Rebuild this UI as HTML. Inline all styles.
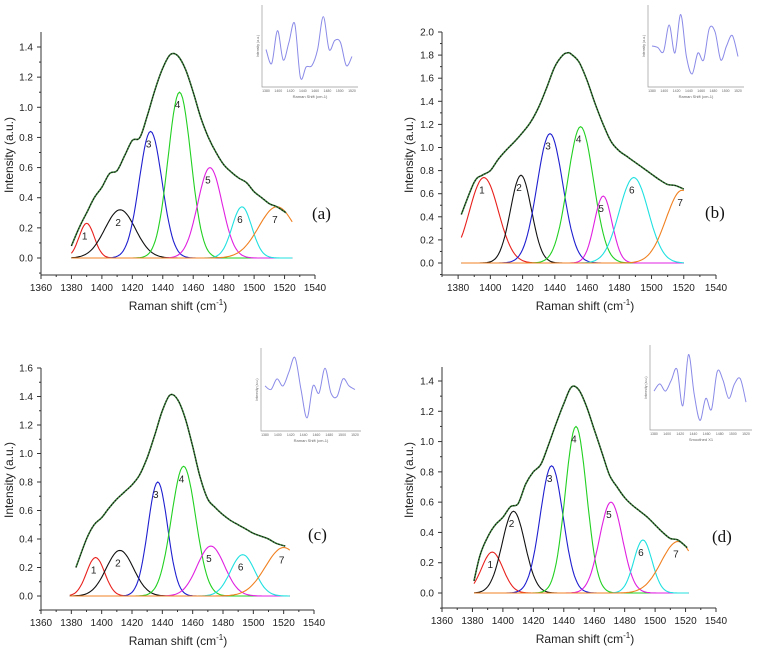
<!DOCTYPE html>
<html><head><meta charset="utf-8"><style>
html,body{margin:0;padding:0;background:#fff;}
svg{display:block;font-family:"Liberation Sans",Arial,sans-serif;}
</style></head><body>
<svg id="fig" width="762" height="653" viewBox="0 0 762 653"></svg>
<script>
// ---------- data ----------
const xTickLabelsA = [1360,1380,1400,1420,1440,1460,1480,1500,1520,1540];
const xTickLabelsB = [1380,1400,1420,1440,1460,1480,1500,1520,1540];
const yTicksA = [0,0.2,0.4,0.6,0.8,1.0,1.2,1.4];
const yTicksB = [0,0.2,0.4,0.6,0.8,1.0,1.2,1.4,1.6,1.8,2.0];
const yTicksC = [0,0.2,0.4,0.6,0.8,1.0,1.2,1.4,1.6];
const envXA = [1380,1385,1390,1395,1400,1405,1410,1415,1420,1425,1430,1435,1440,1445,1450,1455,1460,1465,1470,1475,1480,1485,1490,1495,1500,1505,1510,1515,1521];
const envYA = [0.08,0.2,0.3,0.4,0.47,0.56,0.58,0.68,0.78,0.8,0.95,1.12,1.26,1.35,1.34,1.25,1.1,0.93,0.8,0.7,0.62,0.57,0.53,0.5,0.44,0.4,0.36,0.34,0.3];
const envXB = [1382,1390,1395,1400,1405,1410,1415,1420,1425,1430,1435,1440,1445,1448,1450,1455,1460,1465,1470,1475,1480,1485,1490,1495,1500,1505,1510,1515,1520];
const envYB = [0.42,0.7,0.76,0.8,0.9,0.98,1.05,1.13,1.22,1.35,1.52,1.7,1.8,1.82,1.81,1.74,1.58,1.38,1.2,1.05,0.97,0.92,0.87,0.82,0.77,0.72,0.68,0.67,0.64];
const envXC = [1383,1390,1395,1400,1405,1410,1415,1420,1425,1430,1435,1440,1445,1450,1455,1460,1465,1470,1475,1480,1485,1490,1495,1500,1505,1510,1515,1521];
const envYC = [0.2,0.4,0.5,0.55,0.62,0.68,0.73,0.78,0.85,0.97,1.13,1.3,1.41,1.38,1.25,1.05,0.83,0.68,0.62,0.57,0.53,0.5,0.47,0.44,0.42,0.4,0.37,0.35];
const envXD = [1381,1385,1390,1395,1400,1405,1410,1415,1420,1425,1430,1435,1440,1445,1450,1455,1460,1465,1470,1475,1480,1485,1490,1495,1500,1505,1510,1515,1521];
const envYD = [0.08,0.25,0.37,0.45,0.5,0.57,0.59,0.72,0.8,0.85,0.98,1.12,1.25,1.36,1.34,1.23,1.08,0.93,0.78,0.7,0.63,0.58,0.54,0.5,0.45,0.4,0.36,0.35,0.3];
// peaks: center, height, width
const peakCenterA = [1390,1412,1432,1451,1471,1492,1515];
const peakHeightA = [0.23,0.32,0.84,1.10,0.60,0.34,0.34];
const peakWidthA = [5,10,7.5,7.5,8,6.5,12];
const peakCenterB = [1396,1419,1437,1456,1470,1489,1519];
const peakHeightB = [0.74,0.76,1.12,1.18,0.58,0.74,0.63];
const peakWidthB = [9,6.5,8,8,5.5,9,10];
const peakCenterC = [1396,1412,1437,1454,1472,1493,1520];
const peakHeightC = [0.27,0.32,0.80,0.91,0.35,0.29,0.34];
const peakWidthC = [6,9,6.5,8,9,8,12];
const peakCenterD = [1393,1407,1432,1448,1471,1492,1515];
const peakHeightD = [0.27,0.54,0.84,1.10,0.60,0.35,0.34];
const peakWidthD = [7,7.5,7.5,7,7.5,6,11];
const insetYA = [0.45,0.25,0.72,0.3,0.55,0.82,0.05,0.2,0.22,0.45,0.92,0.45,0.58,0.55,0.22,0.35];
const insetYB = [0.5,0.48,0.42,0.8,0.4,0.95,0.35,0.1,0.4,0.3,0.75,0.7,0.3,0.5,0.65,0.35];
const insetYC = [0.55,0.5,0.65,0.55,0.75,0.95,0.5,0.1,0.55,0.45,0.8,0.45,0.4,0.65,0.55,0.5];
const insetYD = [0.45,0.55,0.45,0.6,0.75,0.25,0.95,0.4,0.05,0.35,0.2,0.72,0.6,0.35,0.55,0.62,0.3];
const colors = ['#e8201c','#111','#1f1fd0','#22d022','#e020e0','#20e0e0','#f08020'];

const NS='http://www.w3.org/2000/svg';
const svg=document.getElementById('fig');
function mk(tag,attrs,parent){const e=document.createElementNS(NS,tag);for(const k in attrs)e.setAttribute(k,attrs[k]);(parent||svg).appendChild(e);return e;}
function smooth(pts){let d='M'+pts[0][0].toFixed(1)+','+pts[0][1].toFixed(1);for(let i=0;i<pts.length-1;i++){const p0=pts[i-1]||pts[i],p1=pts[i],p2=pts[i+1],p3=pts[i+2]||p2;const c1=[p1[0]+(p2[0]-p0[0])/6,p1[1]+(p2[1]-p0[1])/6],c2=[p2[0]-(p3[0]-p1[0])/6,p2[1]-(p3[1]-p1[1])/6];d+='C'+c1.map(v=>v.toFixed(1))+' '+c2.map(v=>v.toFixed(1))+' '+p2.map(v=>v.toFixed(1));}return d;}

function panel(o){
  const g=mk('g',{});  
  const sx=v=>o.px0+(v-o.xv0)*(o.px1-o.px0)/(o.xv1-o.xv0);
  const sy=v=>o.py0-(v)*(o.py0-o.pyTop)/o.yTopVal;
  const ax=mk('path',{d:`M${o.axX},${o.axTop}V${o.axBot}H${sx(1540)}`,stroke:'#333',fill:'none','stroke-width':1},g);
   
  for(let v=o.xMin;v<=1540;v+=10){const major=(v%20===0);mk('line',{x1:sx(v),x2:sx(v),y1:o.axBot,y2:o.axBot+(major?4:2),stroke:'#333'},g);}
  o.xTicks.forEach(v=>{const t=mk('text',{x:sx(v),y:o.axBot+16,'font-size':10,'text-anchor':'middle',fill:'#222'},g);t.textContent=v;
     });
  o.yTicks.forEach(v=>{mk('line',{x1:o.axX-4,x2:o.axX,y1:sy(v),y2:sy(v),stroke:'#333'},g);
    if(sy(v+0.1)>o.axTop) mk('line',{x1:o.axX-2,x2:o.axX,y1:sy(v+0.1),y2:sy(v+0.1),stroke:'#333'},g);
    const t=mk('text',{x:o.axX-8,y:sy(v)+3.5,'font-size':10,'text-anchor':'end',fill:'#222'},g);t.textContent=v.toFixed(1);
     });
  mk('line',{x1:o.axX-2,x2:o.axX,y1:sy(-0.1),y2:sy(-0.1),stroke:'#333'},g);
  const xt=mk('text',{x:o.xTitleX,y:o.axBot+35,'font-size':12,'text-anchor':'middle',fill:'#222'},g);
  xt.innerHTML='Raman shift (cm<tspan dy="-5" font-size="8">-1</tspan><tspan dy="5">)</tspan>';
   
  const yt=mk('text',{x:0,y:0,'font-size':12,'text-anchor':'middle',fill:'#222',transform:`translate(${o.yTitleX},${o.yTitleY}) rotate(-90)`},g);
  yt.textContent='Intensity (a.u.)';  
  o.pc.forEach((c,i)=>{const pts=[];for(let x=o.cStart;x<=o.cEnd;x+=1){const y=o.ph[i]*Math.exp(-Math.pow(x-c,2)/(2*o.pw[i]*o.pw[i]));pts.push([sx(x),sy(y)]);}
    const p=mk('path',{d:'M'+pts.map(q=>q[0].toFixed(1)+','+q[1].toFixed(1)).join('L'),stroke:colors[i],fill:'none','stroke-width':1.1},g);
     
    const t=mk('text',{x:sx(c)-2,y:sy(o.ph[i])+16,'font-size':10,'text-anchor':'middle',fill:'#222'},g);t.textContent=i+1;
     });
  const pts=o.ex.map((x,i)=>[sx(x),sy(o.ey[i])]);
  const e1=mk('path',{d:smooth(pts),stroke:'#3a803a',fill:'none','stroke-width':1.6},g);
   
  const e2=mk('path',{d:smooth(pts),stroke:'#111','stroke-dasharray':'1.5 1.5',fill:'none','stroke-width':1},g);
   
  const lab=mk('text',{x:o.labX,y:o.labY,'font-size':17,'font-family':'Liberation Serif,serif',fill:'#111'},g);lab.textContent='('+o.id+')';
   
  const ig=mk('g',{},g);  
  const I=o.inset;
  mk('path',{d:`M${I.x},${I.y}V${I.y+I.h}H${I.x+I.w}`,stroke:'#999',fill:'none','stroke-width':0.7},ig);
  const n=o.iy.length, pl=[];
  o.iy.forEach((v,i)=>pl.push([I.x+4+i*(I.w-10)/(n-1), I.y+I.h-6-v*(I.h-12)]));
  mk('path',{d:smooth(pl),stroke:'#8a8ae8',fill:'none','stroke-width':1},ig);
  [1380,1400,1420,1440,1460,1480,1500,1520].forEach((v,i)=>{const t=mk('text',{x:I.x+4+i*(I.w-10)/7,y:I.y+I.h+5,'font-size':3.5,'text-anchor':'middle',fill:'#666'},ig);t.textContent=v;});
  const it=mk('text',{x:I.x+I.w/2,y:I.y+I.h+11,'font-size':4,'text-anchor':'middle',fill:'#666'},ig);it.textContent=o.insetTitle;
  const iy=mk('text',{'font-size':3.5,'text-anchor':'middle',fill:'#666',transform:`translate(${I.x-3},${I.y+I.h/2}) rotate(-90)`},ig);iy.textContent='Intensity (a.u.)';
}
panel({id:'a',axX:41,axTop:32,axBot:275,px0:41,px1:315,xv0:1360,xv1:1540,xMin:1360,py0:258,pyTop:47,yTopVal:1.4,
  xTicks:xTickLabelsA,yTicks:yTicksA,xTitleX:178,yTitleX:13,yTitleY:155,cStart:1380,cEnd:1525,
  pc:peakCenterA,ph:peakHeightA,pw:peakWidthA,ex:envXA,ey:envYA,labX:312,labY:219,
  inset:{x:262,y:5,w:96,h:82},iy:insetYA,insetTitle:'Raman Shift (cm-1)'});
panel({id:'b',axX:442,axTop:32,axBot:275,px0:442,px1:716,xv0:1370,xv1:1540,xMin:1370,py0:263,pyTop:32,yTopVal:2.0,
  xTicks:xTickLabelsB,yTicks:yTicksB,xTitleX:585,yTitleX:413,yTitleY:155,cStart:1382,cEnd:1520,
  pc:peakCenterB,ph:peakHeightB,pw:peakWidthB,ex:envXB,ey:envYB,labX:705,labY:218,
  inset:{x:648,y:5,w:96,h:82},iy:insetYB,insetTitle:'Raman Shift (cm-1)'});
panel({id:'c',axX:41,axTop:368,axBot:610,px0:41,px1:314,xv0:1360,xv1:1540,xMin:1360,py0:596,pyTop:368,yTopVal:1.6,
  xTicks:xTickLabelsA,yTicks:yTicksC,xTitleX:178,yTitleX:13,yTitleY:480,cStart:1379,cEnd:1524,
  pc:peakCenterC,ph:peakHeightC,pw:peakWidthC,ex:envXC,ey:envYC,labX:308,labY:540,
  inset:{x:261,y:348,w:100,h:83},iy:insetYC,insetTitle:'Raman Shift (cm-1)'});
panel({id:'d',axX:442,axTop:367,axBot:608,px0:442,px1:716,xv0:1360,xv1:1540,xMin:1360,py0:593,pyTop:381,yTopVal:1.4,
  xTicks:xTickLabelsA,yTicks:yTicksA,xTitleX:585,yTitleX:413,yTitleY:480,cStart:1381,cEnd:1522,
  pc:peakCenterD,ph:peakHeightD,pw:peakWidthD,ex:envXD,ey:envYD,labX:712,labY:542,
  inset:{x:650,y:345,w:102,h:85},iy:insetYD,insetTitle:'Smoothed X1'});
</script>
</body></html>
